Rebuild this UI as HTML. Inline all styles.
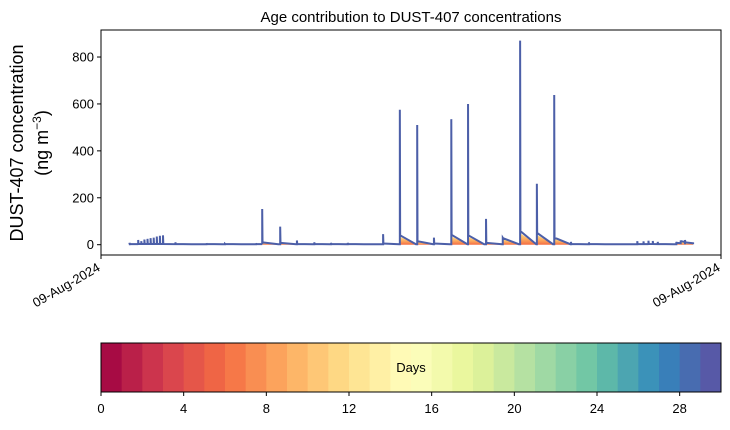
<!DOCTYPE html>
<html><head><meta charset="utf-8">
<style>
html,body{margin:0;padding:0;background:#fff;}
svg text{font-family:"Liberation Sans",sans-serif;fill:#000;}
</style></head>
<body>
<svg id="chart" width="730" height="425" xmlns="http://www.w3.org/2000/svg">
<defs>
<linearGradient id="tailGrad" x1="0" y1="1" x2="0" y2="0">
<stop offset="0" stop-color="#f46d43"/><stop offset="0.5" stop-color="#fdae61"/><stop offset="1" stop-color="#fee08b"/>
</linearGradient>
</defs>
<text x="411" y="22" font-size="15" text-anchor="middle">Age contribution to DUST-407 concentrations</text>
<g id="plot"></g>
<g transform="translate(23,143) rotate(-90)">
<text x="0" y="0" font-size="18" text-anchor="middle">DUST-407 concentration</text>
<text x="0" y="25" font-size="18" text-anchor="middle">(ng m<tspan font-size="12" dy="-7">−3</tspan><tspan dy="7">)</tspan></text>
</g>
<g id="cbar"></g>
</svg>
<script>
const yTicks=[0,200,400,600,800];
const xTickLabels=["09-Aug-2024","09-Aug-2024"];
const eventIdx=[4.6,6,6.5,7,7.5,8,8.5,9,9.5,10,12,17,20,25,26,28.9,31.6,34.4,37.1,39.8,45.5,48.2,51,53.7,56.5,59.2,62.1,64.8,67.6,70.3,73.1,75.8,78.7,86.5,87.5,88.3,89,89.8,92.8,93.5,94.2];
const eventPeak=[8,20,15,22,25,28,30,35,38,40,10,6,4,6,152,77,18,10,8,8,45,575,510,30,535,600,110,30,870,260,638,12,10,15,14,17,16,12,12,18,20];
const eventTail=[3,3,3,3,3,3,3,3,3,3,3,3,3,3,10,8,3,3,3,3,5,40,15,5,42,40,8,28,58,50,30,3,3,3,3,3,3,3,8,15,10];
const dataStart=4.5, dataEnd=95.5, baseVal=2;
const cbTicks=[0,4,8,12,16,20,24,28];
const nDays=30;
const spectral=["#9e0142","#d53e4f","#f46d43","#fdae61","#fee08b","#ffffbf","#e6f598","#abdda4","#66c2a5","#3288bd","#5e4fa2"];

const NS="http://www.w3.org/2000/svg";
const L=101,R=721,T=30,B=255;
const xS=v=>L+(v/100)*(R-L);
const yS=v=>244.7-v*0.2346;
function mk(t,a,p){const e=document.createElementNS(NS,t);for(const k in a)e.setAttribute(k,a[k]);(p||plot).appendChild(e);return e;}
const plot=document.getElementById('plot');

const gT=mk('g',{});


let pts=[[dataStart,baseVal]];
for(let i=0;i<eventIdx.length;i++){
  const x=eventIdx[i];
  const nxt=i+1<eventIdx.length?eventIdx[i+1]:dataEnd;
  const endX=Math.min(x+2.6,nxt);
  const frac=(endX-x)/2.6;
  const endV=eventTail[i]+(baseVal-eventTail[i])*frac;
  pts.push([x,baseVal],[x,eventPeak[i]],[x+0.05,eventTail[i]],[endX,endV]);
  if(eventTail[i]>5){
    const p=mk('polygon',{points:`${xS(x)},${yS(0)} ${xS(x)},${yS(eventTail[i]*0.85)} ${xS(endX)},${yS(endV*0.85)} ${xS(endX)},${yS(0)}`,fill:'url(#tailGrad)'},gT);
    
    
  }
}
pts.push([dataEnd,baseVal]);
const line=mk('polyline',{points:pts.map(p=>xS(p[0])+','+yS(p[1])).join(' '),fill:'none',stroke:'#4c5fa8','stroke-width':2,'stroke-linejoin':'miter'});



const fr=mk('rect',{x:L,y:T,width:R-L,height:B-T,fill:'none',stroke:'#000','stroke-width':1});


yTicks.forEach(v=>{
  mk('line',{x1:L-4,x2:L,y1:yS(v),y2:yS(v),stroke:'#000'});
  const t=mk('text',{x:L-7,y:yS(v)+4.5,'font-size':13,'text-anchor':'end'});
  t.textContent=v;
  
  
});
[L,R].forEach((x,i)=>{
  mk('line',{x1:x,x2:x,y1:B,y2:B+4,stroke:'#000'});
  const t=mk('text',{x:0,y:0,'font-size':13,'text-anchor':'end',transform:`translate(${x},${B+15}) rotate(-30)`});
  t.textContent=xTickLabels[i];
  
  
});

const cb=document.getElementById('cbar');
function hex(c){return [1,3,5].map(i=>parseInt(c.substr(i,2),16));}
function spec(t){const s=t*(spectral.length-1);const i=Math.min(Math.floor(s),spectral.length-2);const f=s-i;const a=hex(spectral[i]),b=hex(spectral[i+1]);return `rgb(${a.map((v,k)=>Math.round(v+(b[k]-v)*f)).join(',')})`;}
const cx=d=>L+d/nDays*(R-L);
for(let d=0;d<nDays;d++){
  const r=mk('rect',{x:cx(d),y:343,width:(R-L)/nDays+0.5,height:49,fill:spec((d+0.5)/nDays)},cb);
  
  
}
const cbf=mk('rect',{x:L,y:343,width:R-L,height:49,fill:'none',stroke:'#000'},cb);


const dl=mk('text',{x:411,y:372,'font-size':13,'text-anchor':'middle'},cb);
dl.textContent='Days';


cbTicks.forEach(v=>{
  mk('line',{x1:cx(v),x2:cx(v),y1:392,y2:396,stroke:'#000'},cb);
  const t=mk('text',{x:cx(v),y:413,'font-size':13,'text-anchor':'middle'},cb);
  t.textContent=v;
  
  
});
</script>
</body></html>
